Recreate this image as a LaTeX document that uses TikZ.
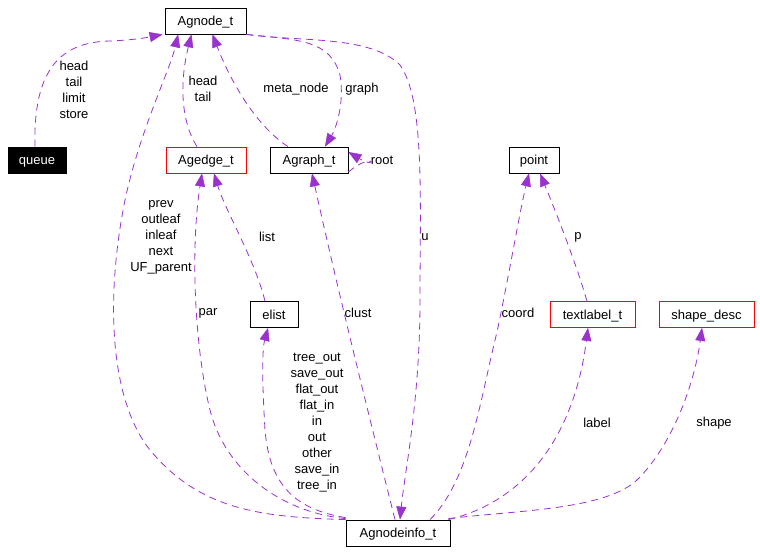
\documentclass[tikz,border=0pt]{standalone}
\usepackage{fontspec}
\setmainfont{Liberation Sans}
\usetikzlibrary{arrows.meta}
\definecolor{edgecol}{RGB}{154,50,205}
\tikzset{
  cls/.style={draw=black, line width=0.8pt, rectangle, minimum height=26pt, inner sep=0pt, text height=9.5pt, text depth=0pt, font=\fontsize{13}{16}\selectfont},
  redcls/.style={cls, draw=red},
  blkcls/.style={cls, fill=black, text=white},
  lbl/.style={align=center, inner sep=0pt, font=\fontsize{13}{16}\selectfont},
  edge/.style={draw=edgecol, line width=0.8pt, dash pattern=on 7pt off 5pt, -{Triangle[length=13pt,width=10pt,fill=edgecol,line width=0.5pt]}},
}
\begin{document}
\begin{tikzpicture}[x=1pt,y=-1pt]
\useasboundingbox[fill=white] (0,0) rectangle (760,554);

% classes
\node[cls, minimum width=81pt] (agnode) at (205.5,21) {Agnode\_t};
\node[blkcls, minimum width=58pt] (queue) at (37,160) {queue};
\node[redcls, minimum width=80pt] (agedge) at (206,160) {Agedge\_t};
\node[cls, minimum width=78pt] (agraph) at (309,160) {Agraph\_t};
\node[cls, minimum width=50pt] (point) at (534,160) {point};
\node[cls, minimum width=48pt] (elist) at (274,314.5) {elist};
\node[redcls, minimum width=85pt] (textlabel) at (592.5,314.5) {textlabel\_t};
\node[redcls, minimum width=95pt] (shapedesc) at (706.5,314.5) {shape\_desc};
\node[cls, minimum width=104pt] (nodeinfo) at (398,533) {Agnodeinfo\_t};

% labels
\node[lbl] (l_queue) at (74,89.5) {head\\tail\\limit\\store};
\node[lbl] (l_edge) at (203,89) {head\\tail};
\node[lbl] (l_meta) at (296,89) {meta\_node};
\node[lbl] (l_graph) at (362,89) {graph};
\node[lbl] (l_root) at (382,160) {root};
\node[lbl] (l_prev) at (161,237) {prev\\outleaf\\inleaf\\next\\UF\_parent};
\node[lbl] (l_list) at (267,237) {list};
\node[lbl] (l_u) at (425,237) {u};
\node[lbl] (l_p) at (578,237) {p};
\node[lbl] (l_par) at (208,313) {par};
\node[lbl] (l_clust) at (358,313) {clust};
\node[lbl] (l_coord) at (518,313) {coord};
\node[lbl] (l_tree) at (317,423) {tree\_out\\save\_out\\flat\_out\\flat\_in\\in\\out\\other\\save\_in\\tree\_in};
\node[lbl] (l_label) at (597,423) {label};
\node[lbl] (l_shape) at (714,423) {shape};

% connectors
\draw[edge] ([xshift=-2pt]queue.north) .. controls (33,70) and (60,42) .. (110,41) .. controls (135,40) and (150,37) .. ([xshift=-2pt]agnode.south west);
\draw[edge] (nodeinfo.north west) .. controls (260,517) and (200,510) .. (150,450) .. controls (110,400) and (105,300) .. (125,200) .. controls (140,130) and (170,70) .. ([xshift=13.5pt]agnode.south west);
\draw[edge] ([yshift=1pt]nodeinfo.north west) .. controls (280,512) and (225,470) .. (210,410) .. controls (195,350) and (190,250) .. ([xshift=-4pt]agedge.south);
\draw[edge] ([yshift=2pt]nodeinfo.north west) .. controls (300,510) and (270,490) .. (265,430) .. controls (262,380) and (262,350) .. ([xshift=-6pt]elist.south);
\draw[edge] ([xshift=-3pt]nodeinfo.north) .. controls (375,440) and (340,300) .. ([xshift=3pt]agraph.south);
\draw[edge] (agnode.south east) .. controls (300,42) and (370,35) .. (400,65) .. controls (425,100) and (420,200) .. (420,300) .. controls (420,400) and (405,470) .. ([xshift=2pt]nodeinfo.north);
\draw[edge] (agnode.south east) .. controls (300,40) and (330,40) .. (340,75) .. controls (345,105) and (335,130) .. ([xshift=16pt]agraph.north);
\draw[edge] ([xshift=-21pt]agraph.north) .. controls (255,125) and (230,80) .. ([xshift=7pt]agnode.south);
\draw[edge] ([xshift=-9pt]agedge.north) .. controls (180,120) and (180,80) .. ([xshift=-14pt]agnode.south);
\draw[edge] ([yshift=-12pt]agraph.east) .. controls (375,150) and (378,170) .. ([yshift=8pt]agraph.east);
\draw[edge] ([xshift=-9pt]elist.north) .. controls (255,260) and (225,210) .. ([xshift=8pt]agedge.south);
\draw[edge] ([xshift=32pt]nodeinfo.north) .. controls (470,480) and (480,400) .. (497,332) .. controls (510,270) and (520,210) .. ([xshift=-5pt]point.south);
\draw[edge] ([xshift=-5.5pt]textlabel.north) .. controls (575,260) and (555,210) .. ([xshift=6pt]point.south);
\draw[edge] ([xshift=-2pt]nodeinfo.north east) .. controls (530,500) and (575,430) .. ([xshift=-4.5pt]textlabel.south);
\draw[edge] ([xshift=-2pt,yshift=1pt]nodeinfo.north east) .. controls (520,510) and (610,510) .. (640,477) .. controls (675,440) and (695,380) .. ([xshift=-4.5pt]shapedesc.south);
\end{tikzpicture}
\end{document}
